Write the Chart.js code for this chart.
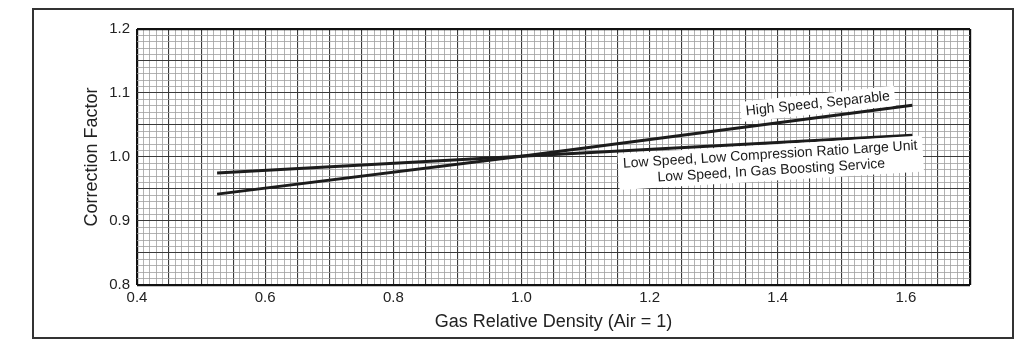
<!DOCTYPE html>
<html>
<head>
<meta charset="utf-8">
<script src="https://cdn.jsdelivr.net/npm/chart.js@4"></script>
<style>
  html, body { margin: 0; padding: 0; background: #fff; }
  #wrap { position: relative; width: 1016px; height: 345px; }
  #frame { position: absolute; left: 32px; top: 8px; width: 978px; height: 327px; border: 2px solid #333; pointer-events: none; }
</style>
</head>
<body>
<div id="wrap">
  <canvas id="chart" width="1016" height="345"></canvas>
  <div id="frame"></div>
</div>
<script>
// --- data ---
const densityX = [0.525, 1.0, 1.61];
const highSpeed = [0.942, 1.001, 1.081];
const lowSpeed = [0.975, 1.001, 1.034];

const xTickLabels = [0.4, 0.6, 0.8, 1.0, 1.2, 1.4, 1.6];
const yTickLabels = [0.8, 0.9, 1.0, 1.1, 1.2];

// curve labels: text lines, centre (data units), angle in degrees
const curveLabels = [
  { lines: ["High Speed, Separable"], x: 1.4625, y: 1.083, angle: -6 },
  { lines: ["Low Speed, Low Compression Ratio Large Unit", "Low Speed, In Gas Boosting Service"], x: 1.389, y: 0.991, angle: -3.5 }
];

const FONT = "'Liberation Sans', Arial, sans-serif";
const toPoints = (ys) => densityX.map((x, i) => ({ x: x, y: ys[i] }));
const hundredths = (v) => Math.round(v * 100);

// grid colour: edges black, every 0.05 dark, every 0.01 light
function gridColor(ctx, min, max) {
  const v = hundredths(ctx.tick.value);
  if (v === hundredths(min) || v === hundredths(max)) return "#111";
  return v % 5 === 0 ? "#3a3a3a" : "#a0a0a0";
}
function gridWidth(ctx, min, max) {
  const v = hundredths(ctx.tick.value);
  if (v === hundredths(min) || v === hundredths(max)) return 2.2;
  return v % 5 === 0 ? 1.1 : 0.8;
}

const labelPlugin = {
  id: "curveLabels",
  afterDatasetsDraw(chart) {
    const { ctx, scales } = chart;
    ctx.save();
    ctx.font = "14px " + FONT;
    curveLabels.forEach((lab) => {
      const px = scales.x.getPixelForValue(lab.x);
      const py = scales.y.getPixelForValue(lab.y);
      const lh = 16;
      const w = Math.max(...lab.lines.map((t) => ctx.measureText(t).width));
      const h = lh * lab.lines.length;
      ctx.save();
      ctx.translate(px, py);
      ctx.rotate(lab.angle * Math.PI / 180);
      ctx.fillStyle = "#fff";
      ctx.fillRect(-w / 2 - 5, -h / 2 - 2, w + 10, h + 4);
      ctx.fillStyle = "#1a1a1a";
      ctx.textAlign = "center";
      ctx.textBaseline = "middle";
      lab.lines.forEach((t, i) => {
        ctx.fillText(t, 0, -h / 2 + lh / 2 + i * lh);
      });
      ctx.restore();
    });
    ctx.restore();
  }
};

const X_MIN = 0.4, X_MAX = 1.7, Y_MIN = 0.8, Y_MAX = 1.2;

new Chart(document.getElementById("chart"), {
  type: "scatter",
  data: {
    datasets: [
      {
        label: "High Speed, Separable",
        data: toPoints(highSpeed),
        showLine: true,
        borderColor: "#1c1c1c",
        borderWidth: 3,
        pointRadius: 0,
        tension: 0
      },
      {
        label: "Low Speed",
        data: toPoints(lowSpeed),
        showLine: true,
        borderColor: "#1c1c1c",
        borderWidth: 3,
        pointRadius: 0,
        tension: 0
      }
    ]
  },
  options: {
    responsive: false,
    animation: false,
    layout: { padding: { left: 0, right: 46, top: 29, bottom: 0 } },
    plugins: {
      legend: { display: false },
      tooltip: { enabled: false }
    },
    scales: {
      x: {
        type: "linear",
        min: X_MIN,
        max: X_MAX,
        afterFit: (scale) => { scale.height = 60; },
        border: { display: false },
        grid: {
          drawTicks: false,
          color: (c) => gridColor(c, X_MIN, X_MAX),
          lineWidth: (c) => gridWidth(c, X_MIN, X_MAX)
        },
        ticks: {
          stepSize: 0.01,
          autoSkip: false,
          maxRotation: 0,
          minRotation: 0,
          padding: 4,
          color: "#222",
          font: { family: FONT, size: 15 },
          callback: (v) => {
            const hit = xTickLabels.find((t) => hundredths(t) === hundredths(v));
            return hit !== undefined ? hit.toFixed(1) : "";
          }
        },
        title: {
          display: true,
          text: "Gas Relative Density (Air = 1)",
          color: "#222",
          padding: { top: 0, bottom: 12 },
          font: { family: FONT, size: 18 }
        }
      },
      y: {
        type: "linear",
        min: Y_MIN,
        max: Y_MAX,
        afterFit: (scale) => { scale.width = 137; },
        border: { display: false },
        grid: {
          drawTicks: false,
          color: (c) => gridColor(c, Y_MIN, Y_MAX),
          lineWidth: (c) => gridWidth(c, Y_MIN, Y_MAX)
        },
        ticks: {
          stepSize: 0.01,
          autoSkip: false,
          padding: 7,
          color: "#222",
          font: { family: FONT, size: 15 },
          callback: (v) => {
            const hit = yTickLabels.find((t) => hundredths(t) === hundredths(v));
            return hit !== undefined ? hit.toFixed(1) : "";
          }
        },
        title: {
          display: true,
          text: "Correction Factor",
          color: "#222",
          padding: { top: 81, bottom: 0 },
          font: { family: FONT, size: 18 }
        }
      }
    }
  },
  plugins: [labelPlugin]
});
</script>
</body>
</html>
